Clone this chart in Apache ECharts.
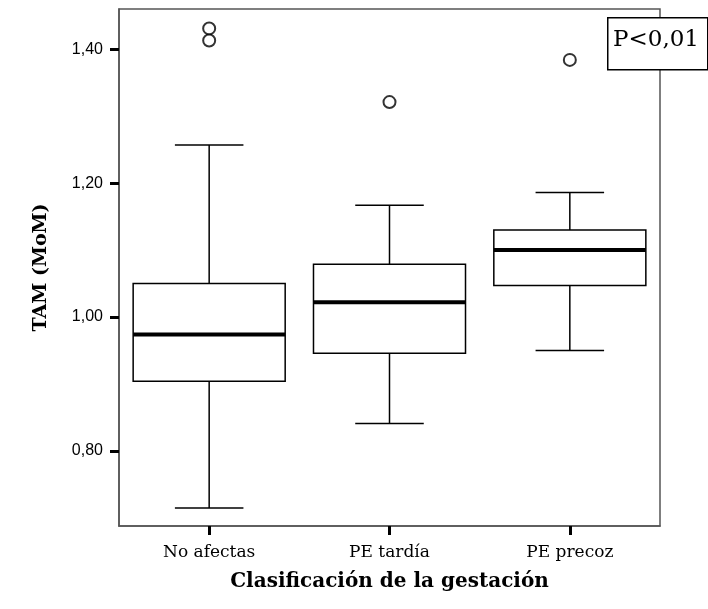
<!DOCTYPE html>
<html style="height: 100%">

<head>
    <meta charset="utf-8">
</head>

<body style="height: 100%; margin: 0; background: #fff">
    <div id="container" style="height: 100%"></div>

    <script type="text/javascript" src="https://cdn.jsdelivr.net/npm/echarts@6/dist/echarts.min.js"></script>

    <script type="text/javascript">

        // groups on the x axis
        var categories = ['No afectas', 'PE tardía', 'PE precoz'];
        // box statistics: [lower whisker, Q1, median, Q3, upper whisker]
        var noAfectas = [0.715, 0.904, 0.974, 1.050, 1.257];
        var peTardia = [0.841, 0.946, 1.022, 1.079, 1.167];
        var pePrecoz = [0.950, 1.047, 1.100, 1.130, 1.186];
        // outliers: [group index, value]
        var outliers = [[0, 1.431], [0, 1.413], [1, 1.321], [2, 1.384]];
        var yTicks = [0.80, 1.00, 1.20, 1.40];

        var boxes = [noAfectas, peTardia, pePrecoz].map(function (b, i) {
            return [i].concat(b);
        });

        var dom = document.getElementById("container");
        var myChart = echarts.init(dom);
        var option;

        function renderBox(params, api) {
            var x = api.value(0);
            var low = api.coord([x, api.value(1)]);
            var q1 = api.coord([x, api.value(2)]);
            var med = api.coord([x, api.value(3)]);
            var q3 = api.coord([x, api.value(4)]);
            var high = api.coord([x, api.value(5)]);
            var band = api.size([1, 0])[0];
            var bw = band * 0.843;
            var cw = band * 0.38;
            var cx = q1[0];
            var thin = { stroke: '#000', lineWidth: 1.5 };
            return {
                type: 'group',
                children: [
                    { type: 'line', shape: { x1: cx, y1: high[1], x2: cx, y2: q3[1] }, style: thin },
                    { type: 'line', shape: { x1: cx, y1: q1[1], x2: cx, y2: low[1] }, style: thin },
                    { type: 'line', shape: { x1: cx - cw / 2, y1: high[1], x2: cx + cw / 2, y2: high[1] }, style: thin },
                    { type: 'line', shape: { x1: cx - cw / 2, y1: low[1], x2: cx + cw / 2, y2: low[1] }, style: thin },
                    {
                        type: 'rect',
                        shape: { x: cx - bw / 2, y: q3[1], width: bw, height: q1[1] - q3[1] },
                        style: { fill: '#fff', stroke: '#000', lineWidth: 1.5 }
                    },
                    { type: 'line', shape: { x1: cx - bw / 2, y1: med[1], x2: cx + bw / 2, y2: med[1] }, style: { stroke: '#000', lineWidth: 4 } }
                ]
            };
        }

        option = {
            animation: false,
            grid: {
                left: 119,
                top: 9,
                right: 48,
                bottom: 83,
                show: true,
                borderColor: '#555',
                borderWidth: 1.5
            },
            xAxis: {
                type: 'category',
                data: categories,
                boundaryGap: true,
                name: 'Clasificación de la gestación',
                nameLocation: 'middle',
                nameGap: 46,
                nameTextStyle: { fontFamily: 'DejaVu Serif', fontWeight: 'bold', fontSize: 20, color: '#000' },
                axisLine: { show: true, lineStyle: { color: '#555', width: 1.5 } },
                axisTick: { show: true, alignWithLabel: true, length: 9, lineStyle: { color: '#000', width: 3 } },
                axisLabel: { fontFamily: 'DejaVu Serif', fontSize: 17, color: '#000', margin: 18 },
                splitLine: { show: false }
            },
            yAxis: {
                type: 'value',
                min: 0.688,
                max: 1.46,
                name: 'TAM (MoM)',
                nameLocation: 'middle',
                nameGap: 68,
                nameTextStyle: { fontFamily: 'DejaVu Serif', fontWeight: 'bold', fontSize: 19, color: '#000' },
                axisLine: { show: true, lineStyle: { color: '#555', width: 1.5 } },
                axisTick: { show: true, length: 9, customValues: yTicks, lineStyle: { color: '#000', width: 3 } },
                axisLabel: {
                    customValues: yTicks,
                    fontFamily: 'Liberation Sans',
                    fontSize: 16,
                    color: '#000',
                    margin: 16,
                    formatter: function (v) { return v.toFixed(2).replace('.', ','); }
                },
                splitLine: { show: false }
            },
            graphic: [
                {
                    type: 'rect',
                    left: 607,
                    top: 17,
                    shape: { width: 100, height: 52 },
                    style: { fill: '#fff', stroke: '#000', lineWidth: 1.5 },
                    z: 100
                },
                {
                    type: 'text',
                    left: 613,
                    top: 29,
                    style: { text: 'P<0,01', fontFamily: 'DejaVu Serif', fontSize: 23, fill: '#000' },
                    z: 101
                }
            ],
            series: [
                {
                    type: 'custom',
                    renderItem: renderBox,
                    encode: { x: 0, y: [1, 2, 3, 4, 5] },
                    data: boxes,
                    z: 3
                },
                {
                    type: 'scatter',
                    data: outliers,
                    symbol: 'emptyCircle',
                    symbolSize: 12,
                    itemStyle: { color: '#000', borderColor: '#000', borderWidth: 1.2 },
                    z: 4
                }
            ]
        };

        if (option && typeof option === 'object') {
            myChart.setOption(option);
        }

    </script>
</body>

</html>
